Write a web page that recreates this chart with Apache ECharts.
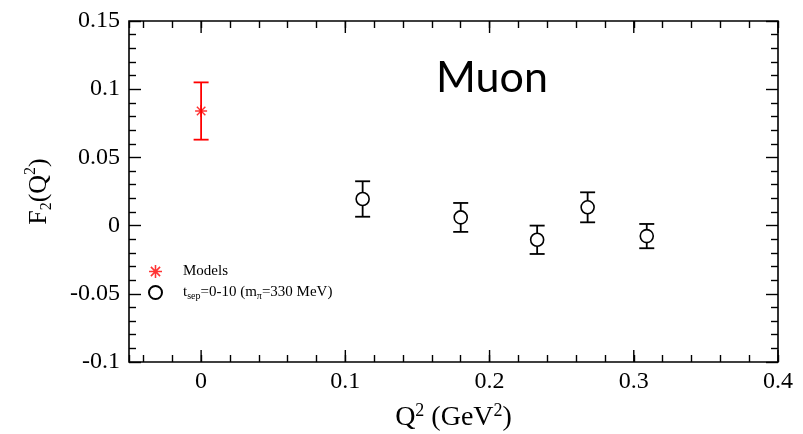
<!DOCTYPE html>
<html>
<head>
<meta charset="utf-8">
<script src="https://cdn.jsdelivr.net/npm/echarts@6/dist/echarts.min.js"></script>
<style>
  html, body { margin: 0; padding: 0; background: #fff; }
  #chart { width: 803px; height: 434px; }
</style>
</head>
<body>
<div id="chart"></div>
<script>
// Model prediction at Q^2 = 0
const modelQ2 = [0];
const modelF2 = [0.084];
const modelErr = [0.021];

// Lattice results, t_sep = 0-10, m_pi = 330 MeV
const latticeQ2 = [0.112, 0.180, 0.233, 0.268, 0.309];
const latticeF2 = [0.0195, 0.0060, -0.0104, 0.0134, -0.0077];
const latticeErr = [0.0130, 0.0106, 0.0104, 0.0110, 0.0089];

// Axis ranges and the x values carrying long tick marks
const xRange = [-0.05, 0.4];
const xMajorTicks = [0, 0.1, 0.2, 0.3, 0.4];
const yRange = [-0.1, 0.15];
const yStep = 0.05;

const modelName = 'Models';
const latticeName = 'tsep=0-10 (mπ=330 MeV)';
const legendLabels = {
  'Models': 'Models',
  'tsep=0-10 (mπ=330 MeV)': 't{sub|sep}=0-10 (m{sub|π}=330 MeV)'
};

const serif = 'Liberation Serif';
const noLine = { show: false, onZero: false };
const plotRect = { left: 129, right: 25, top: 21, bottom: 72, containLabel: false, outerBoundsMode: 'none' };
const majorTickLen = 12;
const minorTickLen = 7;

// Eight-armed asterisk marker
const asterisk = 'path://M-0.12,-1L0.12,-1L0.12,1L-0.12,1Z' +
  'M1,-0.12L1,0.12L-1,0.12L-1,-0.12Z' +
  'M0.622,-0.792L0.792,-0.622L-0.622,0.792L-0.792,0.622Z' +
  'M-0.792,-0.622L-0.622,-0.792L0.792,0.622L0.622,0.792Z';

function errorBars(capHalf, color, width) {
  return function (params, api) {
    const x = api.value(0), y = api.value(1), e = api.value(2);
    const hi = api.coord([x, y + e]);
    const lo = api.coord([x, y - e]);
    const style = { stroke: color, lineWidth: width };
    return {
      type: 'group',
      children: [
        { type: 'line', shape: { x1: hi[0], y1: hi[1], x2: lo[0], y2: lo[1] }, style },
        { type: 'line', shape: { x1: hi[0] - capHalf, y1: hi[1], x2: hi[0] + capHalf, y2: hi[1] }, style },
        { type: 'line', shape: { x1: lo[0] - capHalf, y1: lo[1], x2: lo[0] + capHalf, y2: lo[1] }, style }
      ]
    };
  };
}

// Long inward x ticks on the bottom and top edges of the frame
function majorXTick(params, api) {
  const px = api.coord([api.value(0), yRange[0]])[0];
  const top = api.coord([api.value(0), yRange[1]])[1];
  const bottom = api.coord([api.value(0), yRange[0]])[1];
  const style = { stroke: '#000', lineWidth: 1.4 };
  return {
    type: 'group',
    children: [
      { type: 'line', shape: { x1: px, y1: bottom, x2: px, y2: bottom - majorTickLen }, style },
      { type: 'line', shape: { x1: px, y1: top, x2: px, y2: top + majorTickLen }, style }
    ]
  };
}

// Labelled x axis in grid 0
const xLabelAxis = {
  type: 'value',
  gridIndex: 0,
  position: 'bottom',
  min: xRange[0],
  max: xRange[1],
  splitNumber: 4,
  axisLine: noLine,
  axisTick: { show: false },
  axisLabel: { margin: 8, showMinLabel: false, fontFamily: serif, fontSize: 24, color: '#000' },
  splitLine: { show: false },
  name: 'Q{sup|2} (GeV{sup|2})',
  nameLocation: 'middle',
  nameGap: 40,
  nameTextStyle: {
    fontFamily: serif, fontSize: 28, color: '#000', lineHeight: 32,
    rich: { sup: { fontFamily: serif, fontSize: 18, verticalAlign: 'top', lineHeight: 30 } }
  }
};

// Fine x ticks every 0.02 (grid 1)
function xMinorAxis(position) {
  return {
    type: 'value',
    gridIndex: 1,
    position: position,
    min: xRange[0],
    max: xRange[1],
    splitNumber: 22,
    axisLine: noLine,
    axisTick: { show: true, inside: true, length: minorTickLen, lineStyle: { color: '#000', width: 1.4 } },
    axisLabel: { show: false },
    splitLine: { show: false }
  };
}

function yAxisDef(position) {
  const left = position === 'left';
  return {
    type: 'value',
    gridIndex: 0,
    position: position,
    min: yRange[0],
    max: yRange[1],
    interval: yStep,
    axisLine: noLine,
    axisTick: { show: true, inside: true, length: majorTickLen, lineStyle: { color: '#000', width: 1.4 } },
    minorTick: { show: true, splitNumber: 5, length: minorTickLen, lineStyle: { color: '#000', width: 1.4 } },
    axisLabel: { show: left, margin: 9, fontFamily: serif, fontSize: 24, color: '#000' },
    splitLine: { show: false },
    minorSplitLine: { show: false },
    name: left ? 'F{sub|2}(Q{sup|2})' : '',
    nameLocation: 'middle',
    nameRotate: 90,
    nameGap: 74,
    nameTextStyle: {
      fontFamily: serif, fontSize: 26, color: '#000', lineHeight: 32,
      rich: {
        sub: { fontFamily: serif, fontSize: 16, verticalAlign: 'bottom', lineHeight: 32 },
        sup: { fontFamily: serif, fontSize: 16, verticalAlign: 'top', lineHeight: 32 }
      }
    }
  };
}

const chart = echarts.init(document.getElementById('chart'), null, { renderer: 'canvas' });

chart.setOption({
  animation: false,
  backgroundColor: '#fff',
  title: {
    text: 'Muon',
    left: 431,
    top: 52,
    textStyle: { fontFamily: 'Lato', fontWeight: 'normal', fontSize: 43, color: '#000' }
  },
  // grid 0 carries the frame and data; grid 1 overlays it for the fine x ticks
  grid: [
    Object.assign({ show: true, borderColor: '#000', borderWidth: 1.6, backgroundColor: 'transparent' }, plotRect),
    Object.assign({}, plotRect)
  ],
  legend: {
    data: [modelName, latticeName],
    orient: 'vertical',
    left: 143,
    top: 259,
    itemWidth: 13,
    itemHeight: 13,
    itemGap: 6,
    formatter: function (name) { return legendLabels[name]; },
    textStyle: {
      fontFamily: serif, fontSize: 15, color: '#000', padding: [0, 0, 0, 16],
      rich: { sub: { fontFamily: serif, fontSize: 10, verticalAlign: 'bottom', lineHeight: 17 } }
    },
    selectedMode: false
  },
  xAxis: [
    xLabelAxis,
    xMinorAxis('bottom'),
    xMinorAxis('top')
  ],
  yAxis: [
    yAxisDef('left'),
    yAxisDef('right'),
    { type: 'value', gridIndex: 1, min: yRange[0], max: yRange[1], show: false }
  ],
  series: [
    {
      type: 'custom',
      name: 'x-major-ticks',
      xAxisIndex: 0, yAxisIndex: 0,
      silent: true,
      z: 4,
      renderItem: majorXTick,
      encode: { x: 0, y: 1 },
      data: xMajorTicks.map(v => [v, yRange[0]])
    },
    {
      type: 'custom',
      name: 'model-err',
      xAxisIndex: 0, yAxisIndex: 0,
      silent: true,
      z: 2,
      renderItem: errorBars(7.5, '#ff0000', 1.8),
      encode: { x: 0, y: 1 },
      data: modelQ2.map((q, i) => [q, modelF2[i], modelErr[i]])
    },
    {
      type: 'custom',
      name: 'lattice-err',
      xAxisIndex: 0, yAxisIndex: 0,
      silent: true,
      z: 2,
      renderItem: errorBars(7.5, '#000', 1.8),
      encode: { x: 0, y: 1 },
      data: latticeQ2.map((q, i) => [q, latticeF2[i], latticeErr[i]])
    },
    {
      type: 'scatter',
      name: modelName,
      xAxisIndex: 0, yAxisIndex: 0,
      z: 3,
      symbol: asterisk,
      symbolSize: 12,
      itemStyle: { color: '#ff0000' },
      data: modelQ2.map((q, i) => [q, modelF2[i]])
    },
    {
      type: 'scatter',
      name: latticeName,
      xAxisIndex: 0, yAxisIndex: 0,
      z: 3,
      symbol: 'circle',
      symbolSize: 13,
      itemStyle: { color: '#fff', borderColor: '#000', borderWidth: 1.6, opacity: 1 },
      data: latticeQ2.map((q, i) => [q, latticeF2[i]])
    }
  ]
});
</script>
</body>
</html>
